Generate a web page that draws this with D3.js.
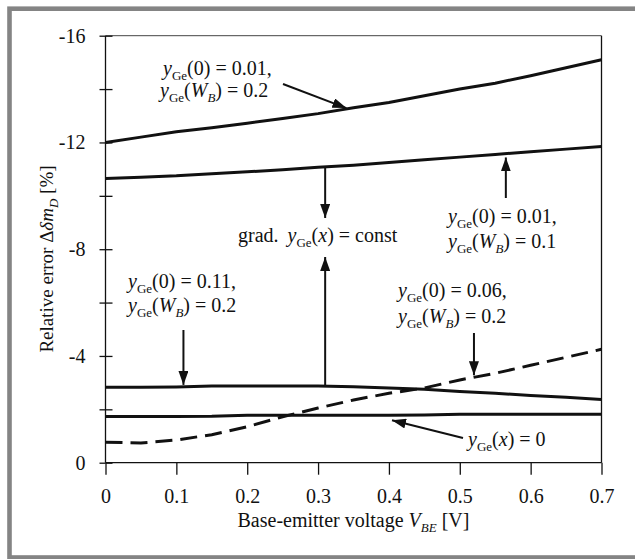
<!DOCTYPE html>
<html>
<head>
<meta charset="utf-8">
<script src="https://cdn.jsdelivr.net/npm/d3@7"></script>
<style>
  body { margin: 0; background: #fff; }
  svg { display: block; }
  text { font-family: "Liberation Serif", "Times New Roman", serif; fill: #111; }
  .axis path, .axis line { stroke: #111; stroke-width: 1.3; }
  .axis text { font-size: 20px; font-family: "Liberation Serif", serif; fill: #111; }
  .curve { fill: none; stroke: #111; stroke-width: 3; }
  .ann { stroke: #111; stroke-width: 2; fill: none; }
</style>
</head>
<body>
<script>
// V_BE sample points [V]
var vbe = [0, 0.05, 0.1, 0.15, 0.2, 0.25, 0.3, 0.35, 0.4, 0.45, 0.5, 0.55, 0.6, 0.65, 0.7];

// relative error [%] for each germanium profile
var ge001_02 = [-12.0, -12.2, -12.4, -12.55, -12.72, -12.9, -13.08, -13.3, -13.5, -13.75, -14.0, -14.22, -14.5, -14.8, -15.1];
var ge001_01 = [-10.65, -10.7, -10.75, -10.83, -10.9, -10.98, -11.07, -11.15, -11.25, -11.35, -11.45, -11.55, -11.65, -11.75, -11.85];
var ge011_02 = [-2.83, -2.83, -2.84, -2.87, -2.87, -2.87, -2.87, -2.85, -2.8, -2.75, -2.67, -2.6, -2.52, -2.45, -2.37];
var ge000    = [-1.73, -1.73, -1.73, -1.74, -1.78, -1.78, -1.78, -1.78, -1.78, -1.79, -1.82, -1.82, -1.82, -1.82, -1.82];
var ge006_02 = [-0.77, -0.74, -0.85, -1.05, -1.35, -1.72, -2.05, -2.35, -2.6, -2.8, -3.1, -3.35, -3.65, -3.95, -4.25];

var xTicks = [0, 0.1, 0.2, 0.3, 0.4, 0.5, 0.6, 0.7];
var yTicks = [0, -4, -8, -12, -16];
var yMinor = [-2, -6, -10, -14];

var W = 635, H = 559;
var plotL = 105.5, plotR = 601.5, plotT = 35.7, plotB = 462.7;

var svg = d3.select("body").append("svg")
    .attr("width", W)
    .attr("height", H);

// grey frame around the figure
svg.append("rect")
    .attr("x", 9.5).attr("y", 8.7)
    .attr("width", 660).attr("height", 548.8)
    .attr("fill", "none")
    .attr("stroke", "#848484")
    .attr("stroke-width", 4.6);

var x = d3.scaleLinear().domain([0, 0.7]).range([plotL, plotR]),
    y = d3.scaleLinear().domain([0, -16]).range([plotB, plotT]);

var defs = svg.append("defs");
defs.append("marker")
    .attr("id", "head")
    .attr("markerUnits", "userSpaceOnUse")
    .attr("viewBox", "0 0 14 10")
    .attr("refX", 14).attr("refY", 5)
    .attr("markerWidth", 14).attr("markerHeight", 10)
    .attr("orient", "auto")
  .append("path")
    .attr("d", "M0,0 L14,5 L0,10 Z")
    .attr("fill", "#111");

// box: top and right edges
svg.append("line")
    .attr("x1", plotL).attr("x2", plotR).attr("y1", plotT).attr("y2", plotT)
    .attr("stroke", "#444").attr("stroke-width", 1);
svg.append("line")
    .attr("x1", plotR).attr("x2", plotR).attr("y1", plotT).attr("y2", plotB)
    .attr("stroke", "#111").attr("stroke-width", 1.3);

// x axis
svg.append("g")
    .attr("class", "x axis")
    .attr("transform", "translate(0," + plotB + ")")
    .call(d3.axisBottom(x).tickValues(xTicks).tickSize(12).tickPadding(14)
        .tickFormat(function(d) { return String(d); }))
    .call(function(g) { g.select(".domain").attr("d", "M" + plotL + ",0H" + plotR); });

// y axis, ticks cross the axis line
svg.append("g")
    .attr("class", "y axis")
    .attr("transform", "translate(" + plotL + ",0)")
    .call(d3.axisLeft(y).tickValues(yTicks).tickSize(6).tickPadding(14)
        .tickFormat(function(d) { return String(d); }))
    .call(function(g) { g.select(".domain").attr("d", "M0," + plotT + "V" + plotB); });

svg.append("g")
    .attr("class", "y axis")
    .attr("transform", "translate(" + plotL + ",0)")
    .call(d3.axisLeft(y).tickValues(yMinor).tickSize(6).tickFormat(""))
    .call(function(g) { g.select(".domain").remove(); });

svg.append("g")
    .attr("class", "y axis")
    .attr("transform", "translate(" + plotL + ",0)")
    .call(d3.axisRight(y).tickValues(yTicks.concat(yMinor)).tickSize(7).tickFormat(""))
    .call(function(g) { g.select(".domain").remove(); });

// curves
var line = d3.line()
    .x(function(d, i) { return x(vbe[i]); })
    .y(function(d) { return y(d); });

[ge001_02, ge001_01, ge011_02, ge000].forEach(function(s) {
  svg.append("path").datum(s).attr("class", "curve").attr("d", line);
});
svg.append("path").datum(ge006_02).attr("class", "curve")
    .attr("stroke-dasharray", "17,8")
    .attr("d", line);

// text helpers: y_Ge(arg) = rhs
function addGe(t, arg, rhs) {
  t.append("tspan").attr("font-style", "italic").text("y");
  t.append("tspan").attr("font-size", "13px").attr("dy", 5).text("Ge");
  t.append("tspan").attr("dy", -5).text("(");
  if (arg === "W_B") {
    t.append("tspan").attr("font-style", "italic").text("W");
    t.append("tspan").attr("font-style", "italic").attr("font-size", "13px").attr("dy", 5).text("B");
    t.append("tspan").attr("dy", -5).text(") = " + rhs);
  } else if (arg === "x") {
    t.append("tspan").attr("font-style", "italic").text("x");
    t.append("tspan").text(") = " + rhs);
  } else {
    t.append("tspan").text(arg + ") = " + rhs);
  }
}

function label(px, py, arg, rhs) {
  var t = svg.append("text").attr("x", px).attr("y", py).style("font-size", "20px");
  addGe(t, arg, rhs);
  return t;
}

function arrow(x1, y1, x2, y2) {
  svg.append("line").attr("class", "ann")
      .attr("x1", x1).attr("y1", y1).attr("x2", x2).attr("y2", y2)
      .attr("marker-end", "url(#head)");
}

// top curve label
label(163, 75, "0", "0.01,");
label(160, 97, "W_B", "0.2");
arrow(283, 84, x(0.34), y(-13.25) - 1);

// 0.01 / 0.1
label(448, 223, "0", "0.01,");
label(448, 248, "W_B", "0.1");
arrow(x(0.565), 198, x(0.565), y(-11.55) + 3);

// gradient constant
var g = svg.append("text").attr("x", 238).attr("y", 242).style("font-size", "20px");
g.append("tspan").text("grad.\u2009 ");
addGe(g, "x", "const");
arrow(x(0.31), y(-11.08), x(0.31), 218);
arrow(x(0.31), y(-2.87), x(0.31), 257);

// 0.11 / 0.2
label(128, 288, "0", "0.11,");
label(128, 312, "W_B", "0.2");
arrow(x(0.11), 330, x(0.11), y(-2.84) - 2);

// 0.06 / 0.2
label(398, 297, "0", "0.06,");
label(398, 323, "W_B", "0.2");
arrow(x(0.52), 333, x(0.52), y(-3.2) - 2);

// zero germanium
label(468, 446, "x", "0");
arrow(463, 438, 392, y(-1.78) + 5);

// axis titles
var xt = svg.append("text")
    .attr("x", (plotL + plotR) / 2).attr("y", 527)
    .attr("text-anchor", "middle")
    .style("font-size", "20px");
xt.append("tspan").text("Base-emitter voltage ");
xt.append("tspan").attr("font-style", "italic").text("V");
xt.append("tspan").attr("font-style", "italic").attr("font-size", "13px").attr("dy", 5).text("BE");
xt.append("tspan").attr("dy", -5).text(" [V]");

var yt = svg.append("text")
    .attr("transform", "translate(53," + 259 + ") rotate(-90)")
    .attr("text-anchor", "middle")
    .style("font-size", "19px");
yt.append("tspan").text("Relative error \u0394");
yt.append("tspan").attr("font-style", "italic").text("\u03B4m");
yt.append("tspan").attr("font-style", "italic").attr("font-size", "13px").attr("dy", 5).text("D");
yt.append("tspan").attr("dy", -5).text(" [%]");
</script>
</body>
</html>
